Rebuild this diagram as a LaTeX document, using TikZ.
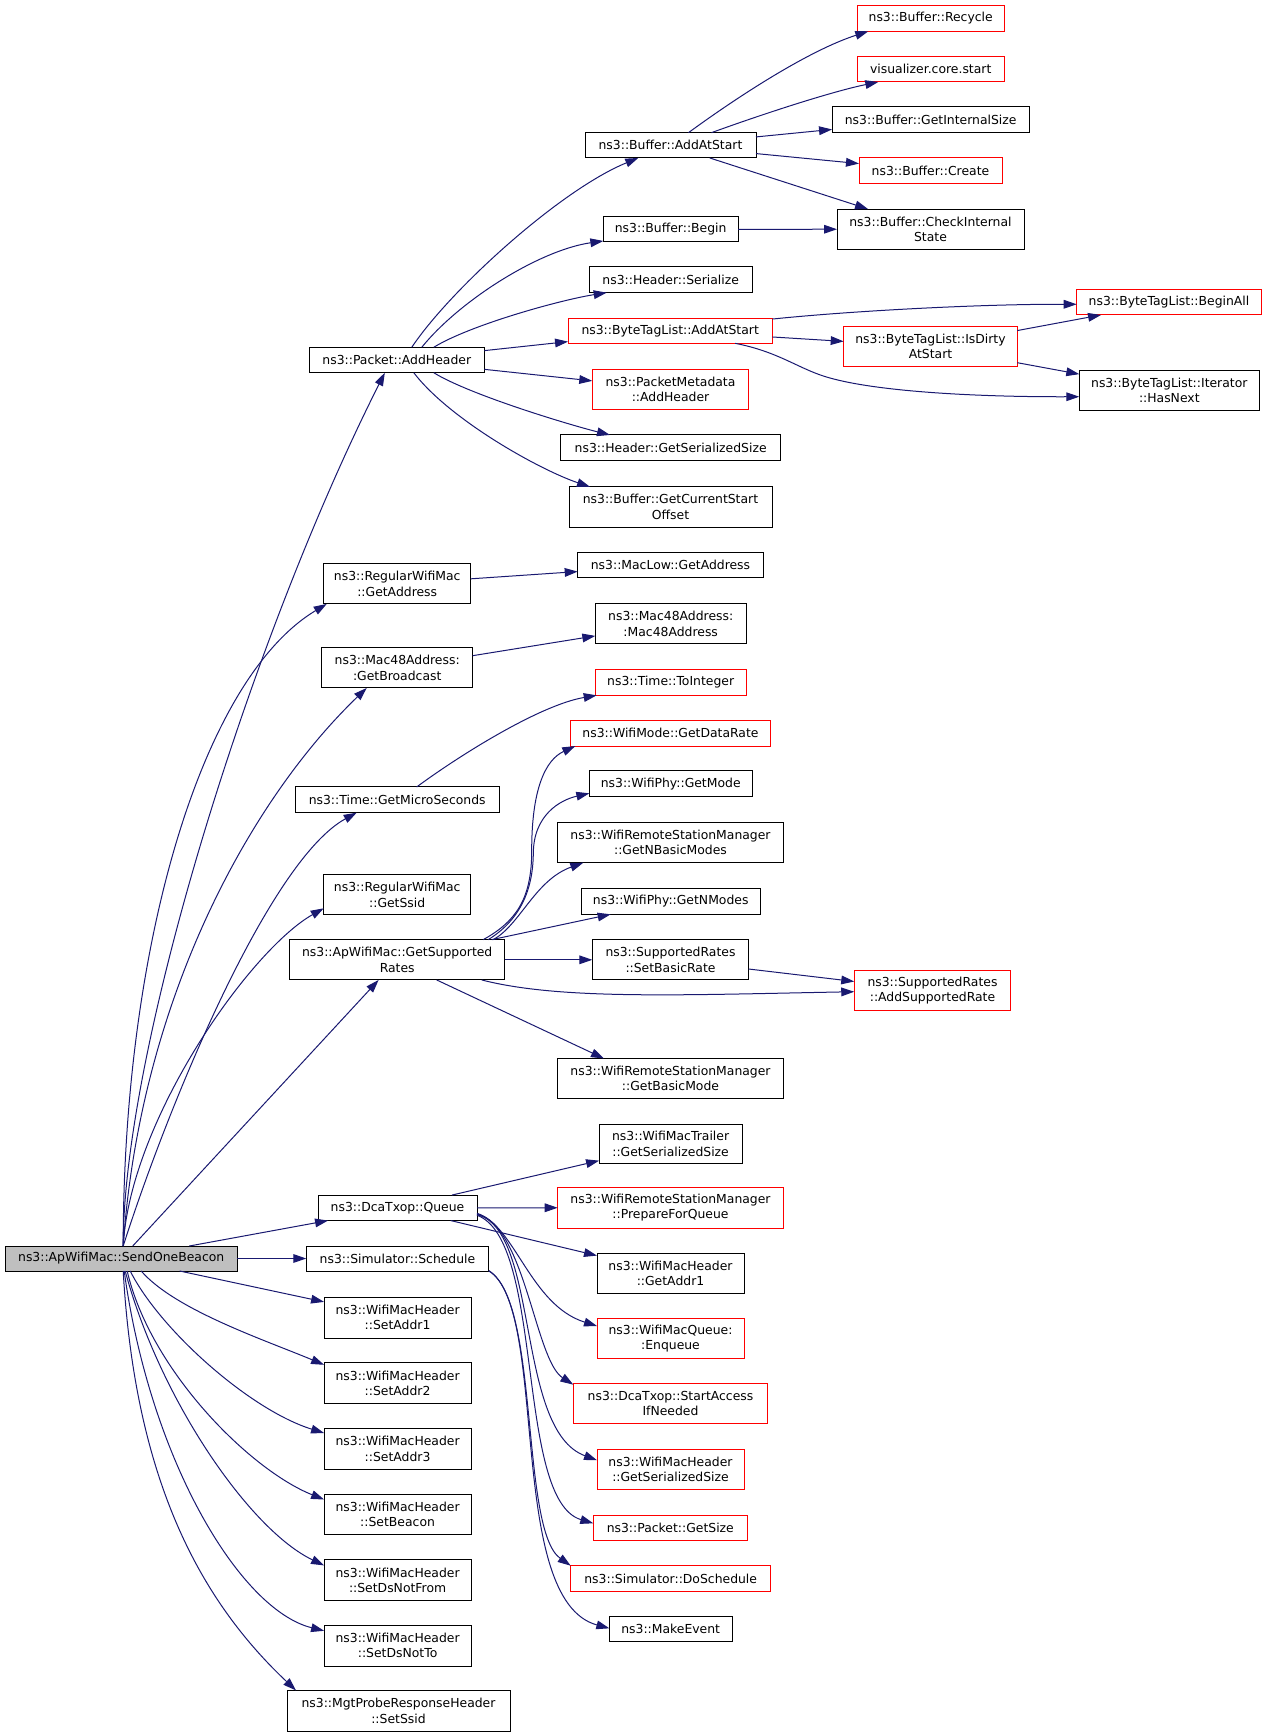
\documentclass[tikz,border=0pt]{standalone}
\usepackage{fontspec}
\setmainfont{DejaVu Sans}
\usetikzlibrary{arrows.meta}
\definecolor{edgeblue}{HTML}{191970}
\definecolor{rootgray}{HTML}{BFBFBF}
\begin{document}
\begin{tikzpicture}[x=1pt,y=-1pt,
  box/.style={draw=black, fill=white, line width=1pt, inner sep=0pt, outer sep=0pt, align=center, font=\fontsize{12.4}{15.3}\selectfont},
  redbox/.style={box, draw=red},
  rootbox/.style={box, fill=rootgray},
  edge/.style={draw=edgeblue, line width=1pt, -{Triangle[length=13pt,width=8.7pt]}},
]
\useasboundingbox (0,0) rectangle (1267,1735);

% ---------- nodes ----------
\node[rootbox, minimum width=232.3pt, minimum height=25pt] (sob) at (121.2,1258.5) {ns3::ApWifiMac::SendOneBeacon};
\node[box, minimum width=175pt, minimum height=25.5pt] (addheader) at (396.8,360) {ns3::Packet::AddHeader};
\node[box, minimum width=171pt, minimum height=25.3pt] (bufaddat) at (670.5,145.3) {ns3::Buffer::AddAtStart};
\node[redbox, minimum width=147.3pt, minimum height=25.6pt] (recycle) at (930.7,18.5) {ns3::Buffer::Recycle};
\node[redbox, minimum width=147.3pt, minimum height=25.3pt] (viz) at (930.7,69.3) {visualizer.core.start};
\node[box, minimum width=197.3pt, minimum height=25.7pt] (getintsize) at (930.7,119.8) {ns3::Buffer::GetInternalSize};
\node[redbox, minimum width=143pt, minimum height=25.6pt] (create) at (930.5,170.5) {ns3::Buffer::Create};
\node[box, minimum width=187pt, minimum height=40.3pt] (checkint) at (930.5,229.2) {ns3::Buffer::CheckInternal\\State};
\node[box, minimum width=134.7pt, minimum height=25.3pt] (bufbegin) at (670.7,229.3) {ns3::Buffer::Begin};
\node[box, minimum width=162.7pt, minimum height=25.7pt] (hdrser) at (670.7,279.8) {ns3::Header::Serialize};
\node[redbox, minimum width=204.3pt, minimum height=25.3pt] (btladd) at (670.2,330.7) {ns3::ByteTagList::AddAtStart};
\node[redbox, minimum width=184.6pt, minimum height=25.3pt] (beginall) at (1169,302.3) {ns3::ByteTagList::BeginAll};
\node[redbox, minimum width=173.6pt, minimum height=40pt] (isdirty) at (930.5,346.7) {ns3::ByteTagList::IsDirty\\AtStart};
\node[box, minimum width=180pt, minimum height=40pt] (hasnext) at (1169.3,390.7) {ns3::ByteTagList::Iterator\\::HasNext};
\node[redbox, minimum width=156.4pt, minimum height=40.3pt] (pktmeta) at (670.5,389.2) {ns3::PacketMetadata\\::AddHeader};
\node[box, minimum width=220pt, minimum height=25.7pt] (hdrgss) at (670.7,447.8) {ns3::Header::GetSerializedSize};
\node[box, minimum width=203pt, minimum height=40.3pt] (curstart) at (670.5,507) {ns3::Buffer::GetCurrentStart\\Offset};
\node[box, minimum width=147pt, minimum height=40.3pt] (rwgetaddr) at (397.2,583.8) {ns3::RegularWifiMac\\::GetAddress};
\node[box, minimum width=185.6pt, minimum height=25.3pt] (maclow) at (670.5,565.3) {ns3::MacLow::GetAddress};
\node[box, minimum width=150.7pt, minimum height=40.3pt] (mac48) at (670.7,623.8) {ns3::Mac48Address:\\:Mac48Address};
\node[box, minimum width=151pt, minimum height=40.3pt] (getbcast) at (397.2,667.8) {ns3::Mac48Address:\\:GetBroadcast};
\node[redbox, minimum width=150.7pt, minimum height=25.6pt] (toint) at (670.7,682.5) {ns3::Time::ToInteger};
\node[box, minimum width=204.3pt, minimum height=25.7pt] (micro) at (397.2,799.8) {ns3::Time::GetMicroSeconds};
\node[redbox, minimum width=200.4pt, minimum height=25.7pt] (datarate) at (670.5,733.2) {ns3::WifiMode::GetDataRate};
\node[box, minimum width=162.7pt, minimum height=25.7pt] (getmode) at (670.7,783.8) {ns3::WifiPhy::GetMode};
\node[box, minimum width=225.6pt, minimum height=40pt] (nbasic) at (670.5,842.7) {ns3::WifiRemoteStationManager\\::GetNBasicModes};
\node[box, minimum width=147pt, minimum height=40.3pt] (getssid) at (397.2,894.8) {ns3::RegularWifiMac\\::GetSsid};
\node[box, minimum width=178.7pt, minimum height=25.6pt] (nmodes) at (670.7,901.5) {ns3::WifiPhy::GetNModes};
\node[box, minimum width=215pt, minimum height=40.3pt] (suprates) at (397.2,959.8) {ns3::ApWifiMac::GetSupported\\Rates};
\node[box, minimum width=156.4pt, minimum height=40.3pt] (setbasic) at (670.5,959.8) {ns3::SupportedRates\\::SetBasicRate};
\node[redbox, minimum width=156.5pt, minimum height=40pt] (addsup) at (932.5,990.7) {ns3::SupportedRates\\::AddSupportedRate};
\node[box, minimum width=225.6pt, minimum height=40pt] (basicmode) at (670.5,1078.5) {ns3::WifiRemoteStationManager\\::GetBasicMode};
\node[box, minimum width=143pt, minimum height=39.5pt] (trailer) at (670.6,1144) {ns3::WifiMacTrailer\\::GetSerializedSize};
\node[box, minimum width=159pt, minimum height=25.5pt] (queue) at (397.5,1207.8) {ns3::DcaTxop::Queue};
\node[redbox, minimum width=225.6pt, minimum height=40.7pt] (prepq) at (670.5,1207.7) {ns3::WifiRemoteStationManager\\::PrepareForQueue};
\node[box, minimum width=182.5pt, minimum height=25pt] (schedule) at (397.5,1258.5) {ns3::Simulator::Schedule};
\node[box, minimum width=147pt, minimum height=40.3pt] (getaddr1) at (670.5,1273.2) {ns3::WifiMacHeader\\::GetAddr1};
\node[box, minimum width=147pt, minimum height=40.8pt] (setaddr1) at (397.6,1317.6) {ns3::WifiMacHeader\\::SetAddr1};
\node[redbox, minimum width=147pt, minimum height=40.3pt] (enqueue) at (670.5,1338.5) {ns3::WifiMacQueue:\\:Enqueue};
\node[box, minimum width=147pt, minimum height=40.8pt] (setaddr2) at (397.6,1383.2) {ns3::WifiMacHeader\\::SetAddr2};
\node[redbox, minimum width=194.4pt, minimum height=40.3pt] (startacc) at (670.5,1403.8) {ns3::DcaTxop::StartAccess\\IfNeeded};
\node[box, minimum width=147pt, minimum height=40.8pt] (setaddr3) at (397.6,1448.9) {ns3::WifiMacHeader\\::SetAddr3};
\node[redbox, minimum width=147pt, minimum height=40.3pt] (wmhgss) at (670.5,1469.2) {ns3::WifiMacHeader\\::GetSerializedSize};
\node[box, minimum width=147pt, minimum height=40.8pt] (setbeacon) at (397.6,1514.4) {ns3::WifiMacHeader\\::SetBeacon};
\node[redbox, minimum width=154pt, minimum height=25.3pt] (pktsize) at (670.3,1527.7) {ns3::Packet::GetSize};
\node[box, minimum width=147pt, minimum height=40.8pt] (setdsfrom) at (397.6,1580.3) {ns3::WifiMacHeader\\::SetDsNotFrom};
\node[redbox, minimum width=200pt, minimum height=25.6pt] (dosched) at (670.7,1578.5) {ns3::Simulator::DoSchedule};
\node[box, minimum width=147pt, minimum height=40.8pt] (setdsto) at (397.6,1645.7) {ns3::WifiMacHeader\\::SetDsNotTo};
\node[box, minimum width=122.7pt, minimum height=25.3pt] (makeevent) at (670.7,1629.3) {ns3::MakeEvent};
\node[box, minimum width=223pt, minimum height=40.8pt] (mgtssid) at (398.5,1710.8) {ns3::MgtProbeResponseHeader\\::SetSsid};

% ---------- edges from SendOneBeacon ----------
\draw[edge] ([xshift=2pt]sob.north) .. controls (123,1050) and (250,640) .. ([xshift=-12pt]addheader.south);
\draw[edge] ([xshift=2pt]sob.north) .. controls (123,950) and (200,680) .. ([xshift=3pt]rwgetaddr.south west);
\draw[edge] ([xshift=2pt]sob.north) .. controls (140,1000) and (250,800) .. ([xshift=-30.5pt]getbcast.south);
\draw[edge] ([xshift=2pt]sob.north) .. controls (170,1100) and (270,860) .. ([xshift=-40.5pt]micro.south);
\draw[edge] ([xshift=2pt]sob.north) .. controls (130,1120) and (250,950) .. ([yshift=-13.5pt]getssid.west);
\draw[edge] (sob) -- (suprates);
\draw[edge] (sob) -- (queue);
\draw[edge] (sob) -- (schedule);
\draw[edge] (sob) -- (setaddr1);
\draw[edge] ([xshift=20pt]sob.south) .. controls (175,1310) and (265,1340) .. ([yshift=-2pt]setaddr2.north west);
\draw[edge] ([xshift=9pt]sob.south) .. controls (160,1330) and (250,1410) .. ([yshift=-4.5pt]setaddr3.north west);
\draw[edge] ([xshift=6pt]sob.south) .. controls (150,1370) and (250,1470) .. ([yshift=-5.5pt]setbeacon.north west);
\draw[edge] ([xshift=4pt]sob.south) .. controls (160,1400) and (250,1530) .. ([yshift=-5.5pt]setdsfrom.north west);
\draw[edge] ([xshift=3pt]sob.south) .. controls (150,1460) and (240,1610) .. ([yshift=-5.5pt]setdsto.north west);
\draw[edge] ([xshift=2pt]sob.south) .. controls (135,1480) and (200,1600) .. ([xshift=9pt]mgtssid.north west);

% ---------- Packet::AddHeader ----------
\draw[edge] ([xshift=15pt]addheader.north) .. controls (450,290) and (560,190) .. ([xshift=-32.2pt]bufaddat.south);
\draw[edge] ([xshift=25pt]addheader.north) .. controls (460,300) and (540,250) .. ([yshift=1pt]bufbegin.south west);
\draw[edge] ([xshift=37pt]addheader.north) .. controls (470,325) and (560,300) .. ([xshift=-64pt]hdrser.south);
\draw[edge] (addheader) -- (btladd);
\draw[edge] (addheader) -- (pktmeta);
\draw[edge] ([xshift=37pt]addheader.south) .. controls (470,395) and (570,425) .. ([xshift=-60.7pt]hdrgss.north);
\draw[edge] ([xshift=17pt]addheader.south) .. controls (450,420) and (540,470) .. ([xshift=-80.5pt]curstart.north);

% ---------- Buffer::AddAtStart ----------
\draw[edge] ([xshift=18pt]bufaddat.north) .. controls (740,95) and (810,50) .. ([xshift=-62.4pt]recycle.south);
\draw[edge] ([xshift=41pt]bufaddat.north) .. controls (760,115) and (830,92) .. ([xshift=-52.4pt]viz.south);
\draw[edge] (bufaddat) -- (getintsize);
\draw[edge] (bufaddat) -- (create);
\draw[edge] (bufaddat) -- (checkint);
\draw[edge] (bufbegin) -- (checkint);

% ---------- ByteTagList ----------
\draw[edge] ([yshift=-1pt]btladd.north east) .. controls (850,311) and (980,304) .. ([yshift=-2pt]beginall.west);
\draw[edge] (btladd) -- (isdirty);
\draw[edge] ([xshift=65pt]btladd.south) .. controls (780,352) and (800,370) .. (830,378) .. controls (880,392) and (980,397) .. ([yshift=-6pt]hasnext.west);
\draw[edge] (isdirty) -- (beginall);
\draw[edge] (isdirty) -- (hasnext);

% ---------- middle ----------
\draw[edge] (rwgetaddr) -- (maclow);
\draw[edge] (getbcast) -- (mac48);
\draw[edge] ([xshift=19.5pt]micro.north) .. controls (460,755) and (540,705) .. ([xshift=-74pt]toint.south);

% ---------- GetSupportedRates ----------
\draw[edge] ([xshift=86pt]suprates.north) .. controls (515,922) and (532,900) .. (531.7,850) .. controls (531.7,790) and (545,760) .. ([xshift=-95.2pt]datarate.south);
\draw[edge] ([xshift=91pt]suprates.north) .. controls (520,920) and (533,890) .. (533.3,853.3) .. controls (533.6,815) and (560,800) .. ([yshift=-9.5pt]getmode.west);
\draw[edge] ([xshift=96pt]suprates.north) .. controls (520,925) and (535,880) .. ([xshift=-87.2pt]nbasic.south);
\draw[edge] (suprates) -- (nmodes);
\draw[edge] (suprates) -- (setbasic);
\draw[edge] ([xshift=84.5pt]suprates.south) .. controls (560,1000) and (680,995) .. ([yshift=-1pt]addsup.west);
\draw[edge] ([xshift=39.5pt]suprates.south) -- ([xshift=-66.5pt]basicmode.north);
\draw[edge] (setbasic) -- (addsup);

% ---------- DcaTxop::Queue ----------
\draw[edge] (queue) -- (trailer);
\draw[edge] (queue) -- (prepq);
\draw[edge] (queue) -- (getaddr1);
\draw[edge] ([yshift=-5.5pt]queue.east) .. controls (515,1225) and (530,1305) .. ([yshift=12.5pt]enqueue.west);
\draw[edge] ([yshift=-6.2pt]queue.east) .. controls (525,1225) and (535,1360) .. ([yshift=-1pt]startacc.north west);
\draw[edge] ([yshift=-6.8pt]queue.east) .. controls (540,1230) and (515,1430) .. ([yshift=9pt]wmhgss.west);
\draw[edge] ([yshift=-7.4pt]queue.east) .. controls (545,1240) and (515,1500) .. ([yshift=4.4pt]pktsize.west);

% ---------- Simulator::Schedule ----------
\draw[edge] (schedule.south east) .. controls (540,1300) and (520,1530) .. (dosched.north west);
\draw[edge] ([yshift=0.5pt]schedule.south east) .. controls (550,1310) and (505,1600) .. ([yshift=1pt]makeevent.west);
\end{tikzpicture}
\end{document}
